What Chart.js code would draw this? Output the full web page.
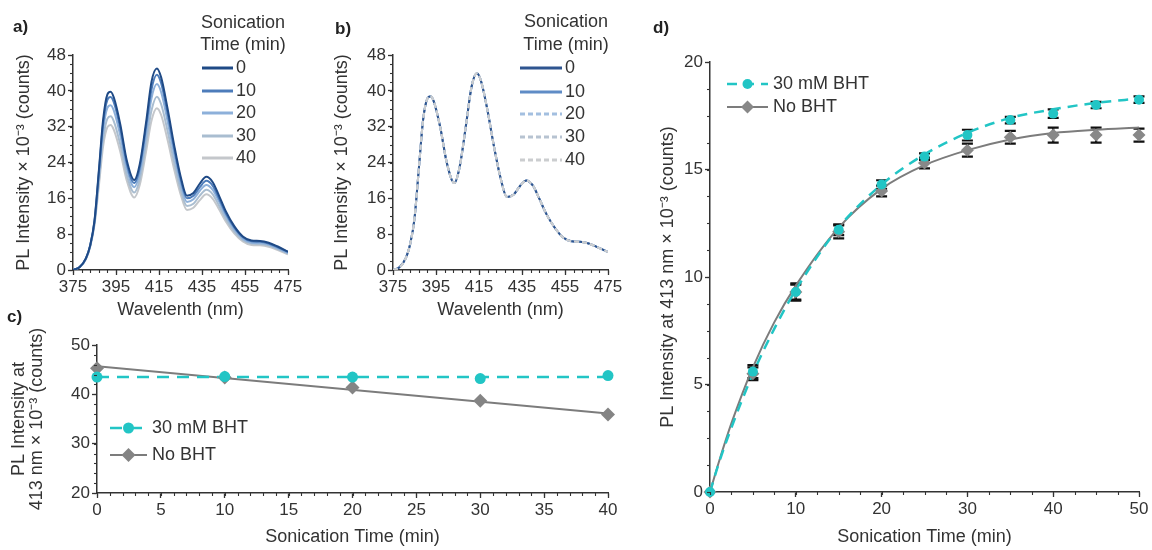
<!DOCTYPE html>
<html lang="en">
<head>
<meta charset="UTF-8">
<title>PL spectra vs sonication time</title>
<script src="https://cdn.jsdelivr.net/npm/chart.js@4.4.1/dist/chart.umd.min.js"></script>
<style>
  html, body { margin: 0; padding: 0; background: #fff; }
  body { width: 1152px; height: 550px; position: relative; overflow: hidden; }
  canvas { position: absolute; }
</style>
</head>
<body>
<canvas id="chartA" width="305" height="325" style="left:0px;top:0px"></canvas>
<canvas id="chartB" width="305" height="325" style="left:320px;top:0px"></canvas>
<canvas id="chartC" width="640" height="250" style="left:0px;top:300px"></canvas>
<canvas id="chartD" width="512" height="550" style="left:640px;top:0px"></canvas>
<script>
// ---- data ----
const wavelength = [375, 378, 381, 383, 385, 387, 389, 391, 392.5, 394, 397, 400, 403.5, 406, 409, 411.5, 414, 416, 419, 422, 425, 428, 431, 434, 437, 440, 443, 446, 450, 454, 458, 462, 466, 470, 475];

// panel a: no BHT, PL x 10^-3 counts
const specA0  = [0, 0.6, 2.6, 5.5, 11.0, 22.0, 33.5, 39.2, 39.8, 38.5, 32.5, 24.5, 20.1, 23.5, 33.0, 42.0, 45.0, 43.0, 36.0, 28.0, 21.0, 16.6, 17.2, 19.3, 20.8, 19.6, 16.5, 13.2, 9.8, 7.5, 6.6, 6.5, 6.1, 5.3, 4.1];
const specA10 = [0, 0.6, 2.6, 5.5, 10.9, 21.6, 32.6, 38.0, 38.6, 37.4, 31.6, 23.8, 19.4, 22.7, 32.0, 40.3, 43.6, 41.7, 34.9, 27.2, 20.4, 16.0, 16.6, 18.5, 19.9, 18.8, 15.9, 12.7, 9.5, 7.3, 6.4, 6.3, 5.9, 5.1, 4.0];
const specA20 = [0, 0.6, 2.5, 5.4, 10.7, 20.8, 31.1, 36.2, 36.8, 35.6, 30.0, 22.7, 18.5, 21.6, 30.4, 38.3, 41.5, 39.7, 33.2, 25.9, 19.4, 15.2, 15.8, 17.7, 19.0, 17.9, 15.2, 12.2, 9.1, 7.0, 6.1, 6.0, 5.7, 4.9, 3.8];
const specA30 = [0, 0.6, 2.5, 5.3, 10.4, 19.6, 29.1, 33.8, 34.3, 33.2, 28.0, 21.2, 17.3, 20.2, 28.3, 35.6, 38.7, 37.0, 31.0, 24.1, 18.1, 14.3, 14.8, 16.6, 17.9, 16.9, 14.3, 11.5, 8.6, 6.7, 5.9, 5.8, 5.5, 4.7, 3.7];
const specA40 = [0, 0.6, 2.4, 5.2, 10.1, 18.6, 27.6, 31.9, 32.4, 31.3, 26.4, 20.0, 16.2, 18.9, 26.5, 33.3, 36.1, 34.6, 29.0, 22.6, 17.0, 13.4, 13.9, 15.6, 16.9, 15.9, 13.5, 10.9, 8.2, 6.4, 5.6, 5.5, 5.2, 4.5, 3.5];

// panel b: 30 mM BHT, all five spectra lie on top of each other
const specB = [0, 0.6, 2.7, 5.8, 11.5, 22.5, 33.5, 38.3, 38.8, 37.6, 31.8, 24.0, 19.4, 23.0, 32.5, 40.8, 43.9, 42.1, 35.5, 27.5, 20.6, 16.3, 16.8, 18.7, 20.0, 18.9, 16.0, 12.8, 9.6, 7.3, 6.4, 6.3, 5.9, 5.1, 4.0];

const sonicationTimes = ['0', '10', '20', '30', '40'];
const specTicksX = [375, 395, 415, 435, 455, 475];
const specTicksY = [0, 8, 16, 24, 32, 40, 48];

// panel c: PL at 413 nm during sonication
const timeC = [0, 10, 20, 30, 40];
const bhtC = [43.5, 43.6, 43.5, 43.2, 43.8];
const noBhtC = [45.3, 43.4, 41.4, 38.7, 35.9];
const fitTimeC = [0, 40];
const bhtFitC = [43.5, 43.5];
const noBhtFitC = [45.7, 36.1];
const ticksCX = [0, 5, 10, 15, 20, 25, 30, 35, 40];
const ticksCY = [20, 30, 40, 50];

// panel d: PL growth at 413 nm
const timeD = [0, 5, 10, 15, 20, 25, 30, 35, 40, 45, 50];
const bhtD = [0, 5.6, 9.3, 12.2, 14.3, 15.6, 16.6, 17.3, 17.6, 18.0, 18.25];
const bhtErrD = [0, 0.3, 0.35, 0.25, 0.2, 0.15, 0.25, 0.15, 0.2, 0.15, 0.15];
const noBhtD = [0, 5.5, 9.3, 12.1, 14.0, 15.3, 15.9, 16.5, 16.6, 16.6, 16.6];
const noBhtErrD = [0, 0.3, 0.4, 0.3, 0.25, 0.25, 0.3, 0.3, 0.35, 0.35, 0.3];
const fitTimeD = [0, 1, 2.5, 5, 7.5, 10, 15, 20, 25, 30, 35, 40, 45, 50];
const bhtFitD = [0, 1.3, 3.0, 5.5, 7.6, 9.4, 12.3, 14.3, 15.7, 16.7, 17.4, 17.8, 18.1, 18.3];
const noBhtFitD = [0, 1.35, 3.2, 5.8, 7.9, 9.6, 12.3, 14.1, 15.2, 15.9, 16.4, 16.7, 16.85, 16.95];
const ticksDX = [0, 10, 20, 30, 40, 50];
const ticksDY = [0, 5, 10, 15, 20];

// ---- styling ----
const FONT = '"Liberation Sans", Arial, Helvetica, sans-serif';
const INK = '#333333';
const CYAN = '#22c5c5';
const GREY = '#7c7c7c';
const colorsA = ['#1f4a86', '#4d7cba', '#8db0da', '#a9bdd0', '#c4c7cb'];
const colorsB = ['#2e5590', '#5f8cc6', '#a3bfe0', '#b7c3d1', '#cbcdcf'];
const dashB = [[], [], [5, 3], [5, 3], [5, 3]];
const orderB = [4, 5, 3, 2, 1];

Chart.defaults.font.family = FONT;
Chart.defaults.color = INK;
Chart.defaults.animation = false;
Chart.defaults.events = [];

const pts = (xs, ys) => xs.map((x, i) => ({x: x, y: ys[i]}));

function marker(ctx, style, x, y, r, color) {
  ctx.fillStyle = color;
  ctx.beginPath();
  if (style === 'rectRot') {
    ctx.moveTo(x, y - r); ctx.lineTo(x + r, y); ctx.lineTo(x, y + r); ctx.lineTo(x - r, y);
    ctx.closePath();
  } else {
    ctx.arc(x, y, r, 0, Math.PI * 2);
  }
  ctx.fill();
}

// panel letter, legend, minor ticks and error bars
const decor = {
  id: 'decor',
  beforeDatasetsDraw(chart, args, opts) {
    if (!opts.errors) return;
    const {ctx, scales: {x, y}} = chart;
    ctx.save();
    ctx.strokeStyle = '#111';
    ctx.lineWidth = 2.2;
    opts.errors.forEach(e => {
      e.x.forEach((xv, i) => {
        if (!e.err[i]) return;
        const px = x.getPixelForValue(xv);
        const top = y.getPixelForValue(e.y[i] + e.err[i]);
        const bot = y.getPixelForValue(e.y[i] - e.err[i]);
        ctx.beginPath();
        ctx.moveTo(px, top); ctx.lineTo(px, bot);
        ctx.moveTo(px - 5.5, top); ctx.lineTo(px + 5.5, top);
        ctx.moveTo(px - 5.5, bot); ctx.lineTo(px + 5.5, bot);
        ctx.stroke();
      });
    });
    ctx.restore();
  },
  afterDraw(chart, args, opts) {
    const ctx = chart.ctx;
    const {x, y} = chart.scales;
    ctx.save();
    // minor ticks
    ctx.strokeStyle = INK;
    ctx.lineWidth = 1.1;
    if (opts.minorX) {
      for (let v = x.min; v <= x.max + 1e-9; v += opts.minorX) {
        const px = Math.round(x.getPixelForValue(v)) + 0.5;
        ctx.beginPath(); ctx.moveTo(px, x.top); ctx.lineTo(px, x.top + 3); ctx.stroke();
      }
    }
    if (opts.minorY) {
      for (let v = y.min; v <= y.max + 1e-9; v += opts.minorY) {
        const py = Math.round(y.getPixelForValue(v)) + 0.5;
        ctx.beginPath(); ctx.moveTo(y.right - 3, py); ctx.lineTo(y.right, py); ctx.stroke();
      }
    }
    // panel letter
    if (opts.letter) {
      ctx.fillStyle = '#222';
      ctx.font = 'bold 17px ' + FONT;
      ctx.textAlign = 'left';
      ctx.textBaseline = 'middle';
      ctx.fillText(opts.letter[0], opts.letter[1], opts.letter[2]);
    }
    // legend
    const L = opts.legend;
    if (L) {
      ctx.font = '18px ' + FONT;
      ctx.fillStyle = INK;
      ctx.textBaseline = 'middle';
      ctx.textAlign = 'center';
      (L.title || []).forEach((t, i) => ctx.fillText(t, L.titleX, L.titleY[i]));
      L.items.forEach((it, i) => {
        const ds = chart.data.datasets[it.line];
        const yy = L.ys[i];
        ctx.save();
        ctx.strokeStyle = ds.borderColor;
        ctx.lineWidth = ds.borderWidth + (L.extra || 0);
        ctx.setLineDash(ds.borderDash || []);
        ctx.beginPath(); ctx.moveTo(L.x0, yy); ctx.lineTo(L.x1, yy); ctx.stroke();
        ctx.restore();
        if (it.point !== undefined) {
          const pd = chart.data.datasets[it.point];
          marker(ctx, pd.pointStyle, (L.x0 + L.x1) / 2, yy, pd.pointRadius, pd.backgroundColor);
        }
        ctx.fillStyle = INK;
        ctx.textAlign = 'left';
        ctx.fillText(it.text, L.textX, yy);
      });
    }
    ctx.restore();
  }
};

function makeScales(c) {
  const grid = {drawOnChartArea: false, tickLength: 5, tickColor: INK, tickWidth: 1.3};
  const border = {color: INK, width: 1.5};
  return {
    x: {
      type: 'linear', position: 'bottom',
      min: c.xTicks[0], max: c.xTicks[c.xTicks.length - 1],
      afterBuildTicks: s => { s.ticks = c.xTicks.map(v => ({value: v})); },
      afterFit: s => { s.height = c.xHeight; },
      grid: grid, border: border,
      ticks: {autoSkip: false, maxRotation: 0, padding: 2, color: INK, font: {size: 17}},
      title: {display: true, text: c.xTitle, color: INK, font: {size: 18, lineHeight: 1.2}, padding: {top: 0, bottom: c.xTitlePad}}
    },
    y: {
      type: 'linear', position: 'left',
      min: c.yTicks[0], max: c.yTicks[c.yTicks.length - 1],
      afterBuildTicks: s => { s.ticks = c.yTicks.map(v => ({value: v})); },
      afterFit: s => { s.width = c.yWidth; },
      grid: grid, border: border,
      ticks: {autoSkip: false, padding: 2, color: INK, font: {size: 17}},
      title: {display: true, text: c.yTitle, color: INK, font: {size: 18, lineHeight: c.yLineHeight || 1.2}, padding: {top: c.yTitlePad, bottom: 0}}
    }
  };
}

const baseOpts = (padding, scales, decorOpts) => ({
  responsive: false,
  layout: {padding: padding},
  scales: scales,
  plugins: {legend: {display: false}, tooltip: {enabled: false}, decor: decorOpts}
});

const specYTitle = 'PL Intensity \u00d7 10\u207b\u00b3 (counts)';

// ---- panel a ----
const specA = [specA0, specA10, specA20, specA30, specA40];
new Chart(document.getElementById('chartA'), {
  type: 'scatter',
  data: {
    datasets: specA.map((s, i) => ({
      label: sonicationTimes[i], data: pts(wavelength, s), showLine: true,
      borderColor: colorsA[i], borderWidth: 2, pointRadius: 0, cubicInterpolationMode: 'monotone'
    }))
  },
  options: baseOpts({top: 55, right: 17, left: 0, bottom: 0},
    makeScales({xTicks: specTicksX, yTicks: specTicksY, xHeight: 55, yWidth: 73,
      xTitle: 'Wavelenth (nm)', xTitlePad: 4, yTitle: specYTitle, yTitlePad: 13}),
    {minorX: 4, minorY: 2, letter: ['a)', 13, 27],
      legend: {title: ['Sonication', 'Time (min)'], titleX: 243, titleY: [23, 45],
        x0: 202, x1: 233, textX: 236, ys: [68, 91, 113, 136, 158], extra: 1,
        items: sonicationTimes.map((t, i) => ({line: i, text: t}))}}),
  plugins: [decor]
});

// ---- panel b ----
new Chart(document.getElementById('chartB'), {
  type: 'scatter',
  data: {
    datasets: sonicationTimes.map((t, i) => ({
      label: t, data: pts(wavelength, specB), showLine: true, order: orderB[i],
      borderColor: colorsB[i], borderWidth: 2, borderDash: dashB[i], pointRadius: 0, cubicInterpolationMode: 'monotone'
    }))
  },
  options: baseOpts({top: 55, right: 17, left: 0, bottom: 0},
    makeScales({xTicks: specTicksX, yTicks: specTicksY, xHeight: 55, yWidth: 73,
      xTitle: 'Wavelenth (nm)', xTitlePad: 4, yTitle: specYTitle, yTitlePad: 11}),
    {minorX: 4, minorY: 2, letter: ['b)', 15, 29],
      legend: {title: ['Sonication', 'Time (min)'], titleX: 246, titleY: [22, 45],
        x0: 200, x1: 242, textX: 245, ys: [68, 92, 114, 137, 160], extra: 1,
        items: sonicationTimes.map((t, i) => ({line: i, text: t}))}}),
  plugins: [decor]
});

// ---- panel c ----
new Chart(document.getElementById('chartC'), {
  type: 'scatter',
  data: {
    datasets: [
      {label: '30 mM BHT fit', data: pts(fitTimeC, bhtFitC), showLine: true, order: 2,
        borderColor: CYAN, borderWidth: 2.5, borderDash: [12, 8], pointRadius: 0},
      {label: 'No BHT fit', data: pts(fitTimeC, noBhtFitC), showLine: true, order: 2,
        borderColor: GREY, borderWidth: 2, pointRadius: 0},
      {label: '30 mM BHT', data: pts(timeC, bhtC), order: 0, clip: false,
        pointStyle: 'circle', pointRadius: 5.5, backgroundColor: CYAN, borderWidth: 0},
      {label: 'No BHT', data: pts(timeC, noBhtC), order: 1, clip: false,
        pointStyle: 'rectRot', pointRadius: 7, backgroundColor: '#848484', borderWidth: 0}
    ]
  },
  options: baseOpts({top: 45, right: 32, left: 0, bottom: 0},
    makeScales({xTicks: ticksCX, yTicks: ticksCY, xHeight: 57, yWidth: 97,
      xTitle: 'Sonication Time (min)', xTitlePad: 2,
      yTitle: ['PL Intensity at', '413 nm \u00d7 10\u207b\u00b3 (counts)'], yTitlePad: 10, yLineHeight: 1.0}),
    {minorX: 1, minorY: 2, letter: ['c)', 7, 17],
      legend: {x0: 110, x1: 147, textX: 152, ys: [128, 155],
        items: [{line: 0, point: 2, text: '30 mM BHT'}, {line: 1, point: 3, text: 'No BHT'}]}}),
  plugins: [decor]
});

// ---- panel d ----
new Chart(document.getElementById('chartD'), {
  type: 'scatter',
  data: {
    datasets: [
      {label: '30 mM BHT fit', data: pts(fitTimeD, bhtFitD), showLine: true, order: 2,
        borderColor: CYAN, borderWidth: 2.5, borderDash: [10, 7], pointRadius: 0, cubicInterpolationMode: 'monotone'},
      {label: 'No BHT fit', data: pts(fitTimeD, noBhtFitD), showLine: true, order: 3,
        borderColor: GREY, borderWidth: 2, pointRadius: 0, cubicInterpolationMode: 'monotone'},
      {label: '30 mM BHT', data: pts(timeD, bhtD), order: 0, clip: false,
        pointStyle: 'circle', pointRadius: 5, backgroundColor: CYAN, borderWidth: 0},
      {label: 'No BHT', data: pts(timeD, noBhtD), order: 1, clip: false,
        pointStyle: 'rectRot', pointRadius: 6.5, backgroundColor: '#888888', borderWidth: 0}
    ]
  },
  options: baseOpts({top: 62, right: 13, left: 0, bottom: 0},
    makeScales({xTicks: ticksDX, yTicks: ticksDY, xHeight: 58, yWidth: 70,
      xTitle: 'Sonication Time (min)', xTitlePad: 2,
      yTitle: 'PL Intensity at 413 nm \u00d7 10\u207b\u00b3 (counts)', yTitlePad: 17}),
    {minorX: 2.5, minorY: 1.25, letter: ['d)', 13, 28],
      errors: [{x: timeD, y: bhtD, err: bhtErrD}, {x: timeD, y: noBhtD, err: noBhtErrD}],
      legend: {x0: 87, x1: 128, textX: 133, ys: [84, 107],
        items: [{line: 0, point: 2, text: '30 mM BHT'}, {line: 1, point: 3, text: 'No BHT'}]}}),
  plugins: [decor]
});
</script>
</body>
</html>
